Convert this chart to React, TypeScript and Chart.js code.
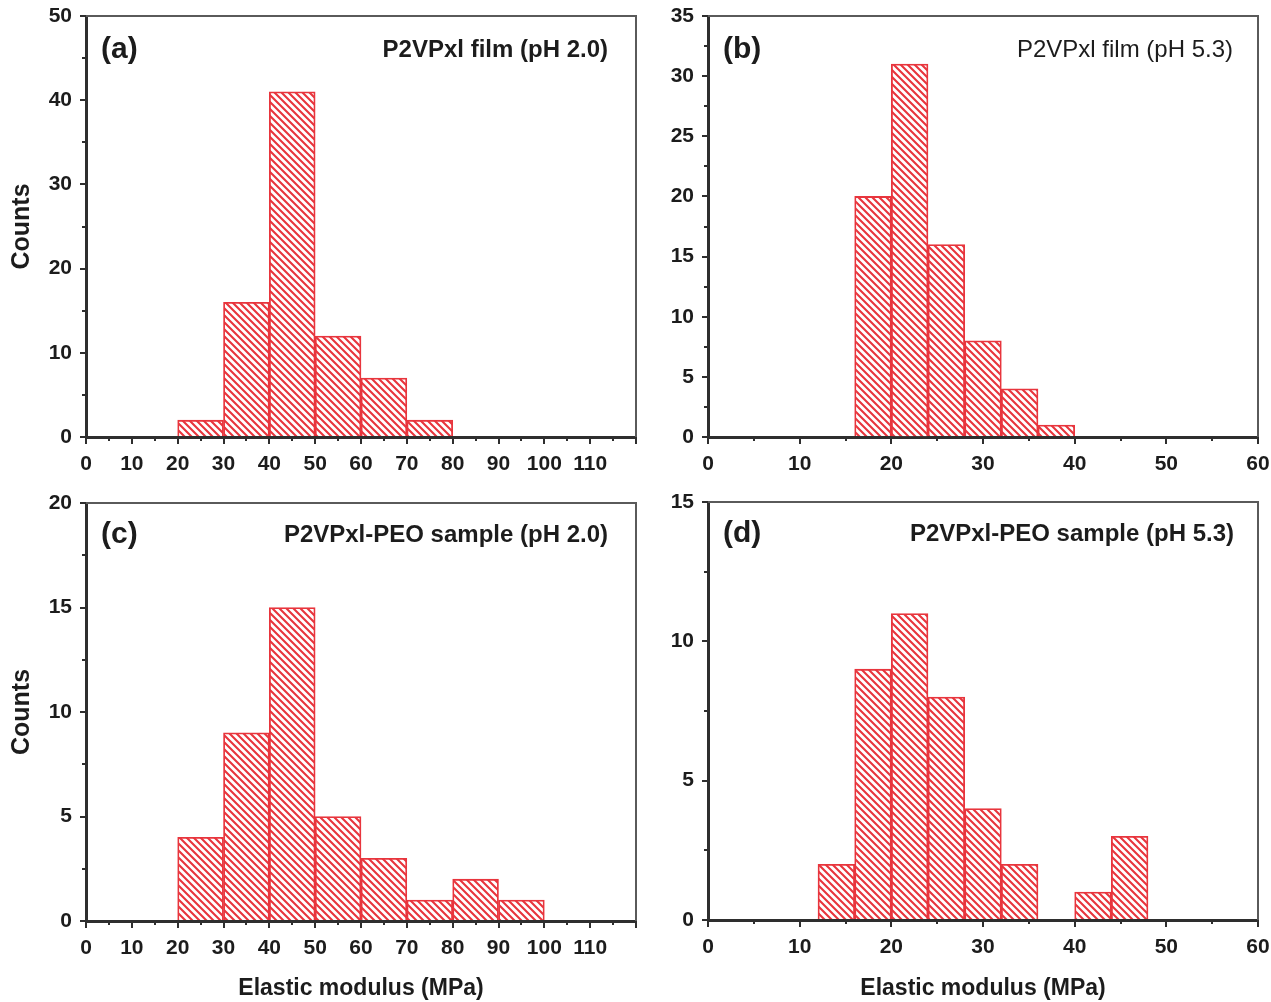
import React, { useEffect, useRef } from 'react';
import { Chart, registerables } from 'chart.js';
Chart.register(...registerables);

// ---------- data ----------
const edgesA = [20, 30, 40, 50, 60, 70];
const countsA = [2, 16, 41, 12, 7, 2];
const binA = 10;

const edgesB = [16, 20, 24, 28, 32, 36];
const countsB = [20, 31, 16, 8, 4, 1];
const binB = 4;

const edgesC = [20, 30, 40, 50, 60, 70, 80, 90];
const countsC = [4, 9, 15, 5, 3, 1, 2, 1];
const binC = 10;

const edgesD = [12, 16, 20, 24, 28, 32, 40, 44];
const countsD = [2, 9, 11, 8, 4, 2, 1, 3];
const binD = 4;

const letters = ['(a)', '(b)', '(c)', '(d)'];
const titles = [
  'P2VPxl film (pH 2.0)',
  'P2VPxl film (pH 5.3)',
  'P2VPxl-PEO sample (pH 2.0)',
  'P2VPxl-PEO sample (pH 5.3)',
];
const yTitle = 'Counts';
const xTitle = 'Elastic modulus (MPa)';

// ---------- styles ----------
const FONT = "'Liberation Sans', Arial, Helvetica, sans-serif";
const RED = '#e8353d';
const AXIS = '#2e2e2e';
const FRAME = '#5a5a5a';
const TEXT = '#1c1c1c';

type Panel = {
  left: number; top: number; width: number; height: number;
  area: { left: number; top: number; right: number; bottom: number };
  edges: number[]; counts: number[]; bin: number;
  xMax: number; xStep: number; hideLastX: boolean;
  yMax: number; yStep: number;
  letter: string; title: string; titleBold: boolean; titleRight: number; textDy: number;
  showYTitle: boolean; showXTitle: boolean;
};

const panels: Panel[] = [
  {
    left: 0, top: 0, width: 640, height: 490,
    area: { left: 86, top: 16, right: 636, bottom: 437 },
    edges: edgesA, counts: countsA, bin: binA,
    xMax: 120, xStep: 10, hideLastX: true, yMax: 50, yStep: 10,
    letter: letters[0], title: titles[0], titleBold: true, titleRight: 28, textDy: 34,
    showYTitle: true, showXTitle: false,
  },
  {
    left: 640, top: 0, width: 631, height: 490,
    area: { left: 68, top: 16, right: 618, bottom: 437 },
    edges: edgesB, counts: countsB, bin: binB,
    xMax: 60, xStep: 10, hideLastX: false, yMax: 35, yStep: 5,
    letter: letters[1], title: titles[1], titleBold: false, titleRight: 25, textDy: 34,
    showYTitle: false, showXTitle: false,
  },
  {
    left: 0, top: 490, width: 640, height: 512,
    area: { left: 86, top: 13, right: 636, bottom: 431 },
    edges: edgesC, counts: countsC, bin: binC,
    xMax: 120, xStep: 10, hideLastX: true, yMax: 20, yStep: 5,
    letter: letters[2], title: titles[2], titleBold: true, titleRight: 28, textDy: 32,
    showYTitle: true, showXTitle: true,
  },
  {
    left: 640, top: 490, width: 631, height: 512,
    area: { left: 68, top: 12, right: 618, bottom: 430 },
    edges: edgesD, counts: countsD, bin: binD,
    xMax: 60, xStep: 10, hideLastX: false, yMax: 15, yStep: 5,
    letter: letters[3], title: titles[3], titleBold: true, titleRight: 24, textDy: 32,
    showYTitle: false, showXTitle: true,
  },
];

function makeHatch(ctx: CanvasRenderingContext2D) {
  const s = 7;
  const c = document.createElement('canvas');
  c.width = s; c.height = s;
  const g = c.getContext('2d')!;
  g.fillStyle = '#ffffff';
  g.fillRect(0, 0, s, s);
  g.strokeStyle = RED;
  g.lineWidth = 2.1;
  g.beginPath();
  for (const k of [-1, 0, 1]) {
    g.moveTo(-1, k * s - 1);
    g.lineTo(s + 1, s + k * s + 1);
  }
  g.stroke();
  return ctx.createPattern(c, 'repeat');
}

const decorPlugin = {
  id: 'decor',
  afterDraw(chart: any, _args: any, opts: any) {
    const p: Panel = opts.panel;
    const { ctx, chartArea: a, scales } = chart;
    ctx.save();
    // top & right frame
    ctx.strokeStyle = FRAME;
    ctx.lineWidth = 2;
    ctx.beginPath();
    ctx.moveTo(a.left, a.top);
    ctx.lineTo(a.right, a.top);
    ctx.lineTo(a.right, a.bottom);
    ctx.stroke();
    // minor ticks
    ctx.strokeStyle = AXIS;
    ctx.lineWidth = 2;
    ctx.beginPath();
    for (let v = p.xStep / 2; v < p.xMax; v += p.xStep) {
      const x = Math.round(scales.x.getPixelForValue(v));
      ctx.moveTo(x, a.bottom);
      ctx.lineTo(x, a.bottom + 4);
    }
    for (let v = p.yStep / 2; v < p.yMax; v += p.yStep) {
      const y = Math.round(scales.y.getPixelForValue(v));
      ctx.moveTo(a.left, y);
      ctx.lineTo(a.left - 4, y);
    }
    ctx.stroke();
    // panel texts
    ctx.fillStyle = TEXT;
    ctx.textBaseline = 'middle';
    ctx.textAlign = 'left';
    ctx.font = `bold 30px ${FONT}`;
    ctx.fillText(p.letter, a.left + 15, a.top + p.textDy);
    ctx.textAlign = 'right';
    ctx.font = `${p.titleBold ? 'bold ' : ''}24px ${FONT}`;
    ctx.fillText(p.title, a.right - p.titleRight, a.top + p.textDy);
    ctx.restore();
  },
};

function zeroPad(s: any) {
  s.paddingTop = 0;
  s.paddingBottom = 0;
  s.paddingLeft = 0;
  s.paddingRight = 0;
}

function HistPanel({ p }: { p: Panel }) {
  const ref = useRef<HTMLCanvasElement>(null);
  useEffect(() => {
    const canvas = ref.current!;
    const ctx = canvas.getContext('2d')!;
    const pattern = makeHatch(ctx);
    const data = p.edges.map((e, i) => ({ x: e + p.bin / 2, y: p.counts[i] }));
    const tickFont = { family: FONT, size: 21, weight: 'bold' as const };
    const chart = new Chart(ctx, {
      type: 'bar',
      data: {
        datasets: [
          {
            data,
            backgroundColor: pattern as any,
            borderColor: RED,
            borderWidth: 1.8,
            barPercentage: 1,
            categoryPercentage: 1,
          },
        ],
      },
      options: {
        responsive: false,
        animation: false,
        devicePixelRatio: 1,
        layout: {
          padding: { left: 0, top: p.area.top, right: p.width - p.area.right, bottom: 0 },
        },
        plugins: {
          legend: { display: false },
          tooltip: { enabled: false },
          decor: { panel: p },
        } as any,
        scales: {
          x: {
            type: 'linear',
            min: 0,
            max: p.xMax,
            offset: false,
            z: 1,
            grid: { display: true, drawOnChartArea: false, drawTicks: true, tickLength: 7, color: AXIS, lineWidth: 2, offset: false },
            border: { display: true, color: AXIS, width: 3 },
            ticks: {
              stepSize: p.xStep,
              autoSkip: false,
              maxRotation: 0,
              padding: 8,
              color: TEXT,
              font: tickFont,
              callback: (v: any) => (p.hideLastX && v === p.xMax ? '' : String(v)),
            },
            title: {
              display: p.showXTitle,
              text: xTitle,
              color: TEXT,
              font: { family: FONT, size: 23, weight: 'bold' },
              padding: { top: 0, bottom: 0 },
            },
            afterFit: (s: any) => { s.height = p.height - p.area.bottom; zeroPad(s); },
          },
          y: {
            type: 'linear',
            min: 0,
            max: p.yMax,
            z: 1,
            grid: { display: true, drawOnChartArea: false, drawTicks: true, tickLength: 6, color: AXIS, lineWidth: 2 },
            border: { display: true, color: AXIS, width: 3 },
            ticks: {
              stepSize: p.yStep,
              padding: 8,
              color: TEXT,
              font: tickFont,
            },
            title: {
              display: p.showYTitle,
              text: yTitle,
              color: TEXT,
              font: { family: FONT, size: 25, weight: 'bold' },
              padding: { top: 7, bottom: 0 },
            },
            afterFit: (s: any) => { s.width = p.area.left; zeroPad(s); },
          },
        },
      } as any,
      plugins: [decorPlugin],
    });
    return () => chart.destroy();
  }, [p]);
  return (
    <canvas
      ref={ref}
      width={p.width}
      height={p.height}
      style={{ position: 'absolute', left: p.left, top: p.top, width: p.width, height: p.height }}
    />
  );
}

export default function App() {
  return (
    <div style={{ position: 'absolute', left: 0, top: 0, width: 1271, height: 1002, background: '#fff' }}>
      {panels.map((p, i) => (
        <HistPanel key={i} p={p} />
      ))}
    </div>
  );
}
